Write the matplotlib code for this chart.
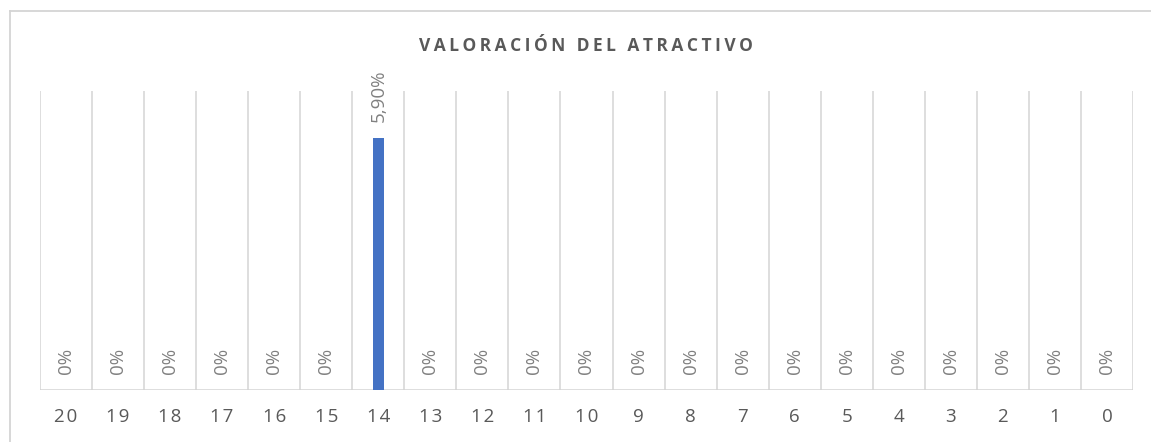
import numpy as np
import matplotlib.pyplot as plt
from matplotlib.lines import Line2D

# puntuaciones de 20 a 0 y su porcentaje
categorias = [str(n) for n in range(20, -1, -1)]
porcentajes = [0, 0, 0, 0, 0, 0, 5.90, 0, 0, 0, 0, 0, 0, 0, 0, 0, 0, 0, 0, 0, 0]

titulo = "VALORACIÓN DEL ATRACTIVO"

AZUL = "#4472c4"
GRIS_TEXTO = "#595959"
GRIS_ETIQ = "#808080"
GRIS_LINEA = "#d4d4d4"
FUENTE = ["Open Sans", "DejaVu Sans"]


def espaciar(texto, sep="\u200a"):
    return sep.join(texto)


def etiqueta(v):
    if v == 0:
        return "0%"
    return f"{v:.2f}%".replace(".", ",")


W, H = 1151, 442
fig = plt.figure(figsize=(W / 100, H / 100), dpi=100)
ax = fig.add_axes([40 / W, 1 - 390 / H, (1133 - 40) / W, (390 - 91) / H])

x = np.arange(len(categorias))
ax.bar(x, porcentajes, width=0.2, color=AZUL, zorder=3)

ax.set_xlim(-0.5, len(categorias) - 0.5)
ax.set_ylim(0, 7)

# lineas verticales entre categorias
for b in np.arange(-0.5, len(categorias), 1.0):
    ax.axvline(b, color=GRIS_LINEA, lw=1.1, zorder=1)
ax.axhline(0, color=GRIS_LINEA, lw=1.1, zorder=2)

for xi, v in zip(x, porcentajes):
    ax.annotate(etiqueta(v), (xi, v), xytext=(0, 11.5), textcoords="offset points",
                rotation=90, ha="center", va="bottom", fontsize=13.5,
                color=GRIS_ETIQ, family=FUENTE)

ax.set_xticks(x)
ax.set_xticklabels([espaciar(c) for c in categorias], fontsize=13.5, color=GRIS_TEXTO,
                   family=FUENTE)
ax.tick_params(axis="x", length=0, pad=13)
ax.set_yticks([])
for s in ax.spines.values():
    s.set_visible(False)

fig.text(586 / W, 1 - 46 / H, espaciar(titulo, "\u2009"), ha="center", va="center",
         fontsize=12.5, fontweight="bold", color=GRIS_TEXTO, family=FUENTE)

# marco del grafico
fig.add_artist(Line2D([10 / W, 10 / W], [0, 1 - 11 / H], color=GRIS_LINEA, lw=1.3,
                      transform=fig.transFigure))
fig.add_artist(Line2D([10 / W, 1], [1 - 11 / H, 1 - 11 / H], color=GRIS_LINEA, lw=1.3,
                      transform=fig.transFigure))

fig.savefig("out.png", dpi=100)
